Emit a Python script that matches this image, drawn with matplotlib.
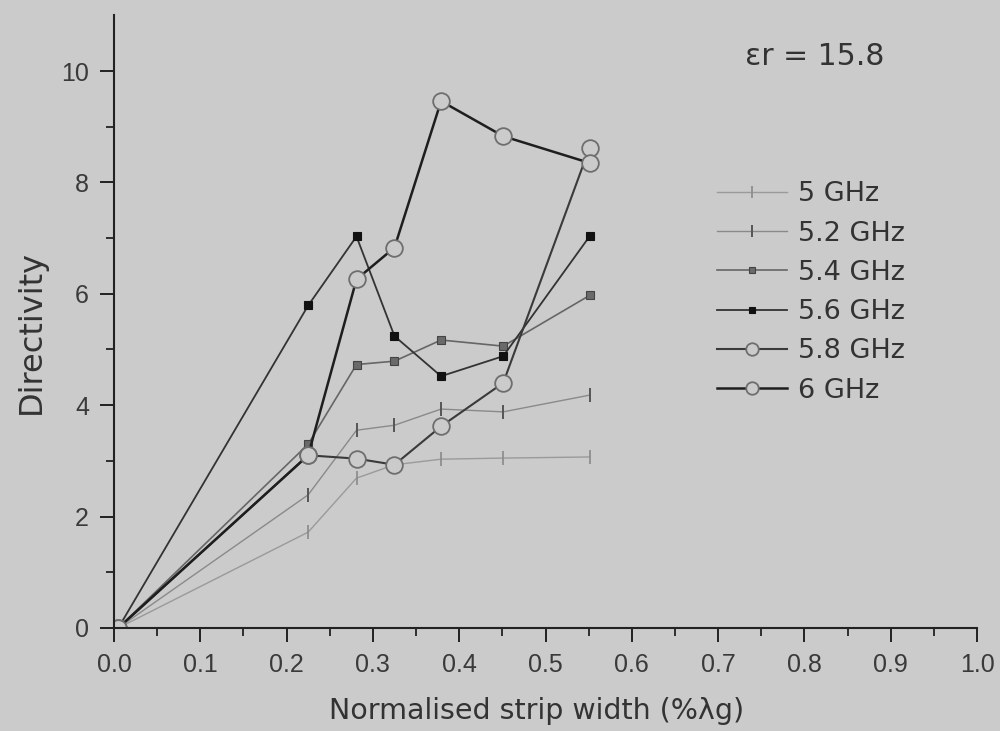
import matplotlib
matplotlib.use("Agg")
import matplotlib.pyplot as plt

plt.rcParams['font.family'] = ['Liberation Sans', 'DejaVu Sans']

BG = '#cbcbcb'
LABELFONT = ['DejaVu Sans']

x = [0.005, 0.225, 0.281, 0.325, 0.379, 0.451, 0.551]
series_labels = ['5 GHz', '5.2 GHz', '5.4 GHz', '5.6 GHz', '5.8 GHz', '6 GHz']
y_5_0 = [0.0, 1.72, 2.69, 2.93, 3.03, 3.05, 3.07]
y_5_2 = [0.0, 2.39, 3.55, 3.64, 3.93, 3.88, 4.18]
y_5_4 = [0.0, 3.30, 4.73, 4.79, 5.17, 5.06, 5.97]
y_5_6 = [0.0, 5.79, 7.03, 5.24, 4.52, 4.88, 7.03]
y_5_8 = [0.0, 3.10, 3.04, 2.93, 3.62, 4.40, 8.62]
y_6_0 = [0.0, 3.10, 6.26, 6.83, 9.46, 8.83, 8.35]

x_ticks = [0.0, 0.1, 0.2, 0.3, 0.4, 0.5, 0.6, 0.7, 0.8, 0.9, 1.0]
y_ticks = [0, 2, 4, 6, 8, 10]

fig = plt.figure(figsize=(10, 7.31), dpi=100, facecolor=BG)
ax = fig.add_axes([0.114, 0.141, 0.863, 0.838], facecolor=BG)

styles = [
    dict(color='#9a9a9a', lw=1.0, marker='|', ms=10, mew=1.2, mec='#8a8a8a'),
    dict(color='#8a8a8a', lw=1.0, marker='|', ms=10, mew=1.4, mec='#555555'),
    dict(color='#666666', lw=1.2, marker='s', ms=5.5, mfc='#6a6a6a', mec='#444444', mew=0.8),
    dict(color='#333333', lw=1.3, marker='s', ms=5.5, mfc='#111111', mec='#111111', mew=0.8),
    dict(color='#3a3a3a', lw=1.5, marker='o', ms=12, mfc=BG, mec='#6e6e6e', mew=1.3),
    dict(color='#1e1e1e', lw=1.8, marker='o', ms=12, mfc=BG, mec='#6e6e6e', mew=1.3),
]
legend_ms = [8, 8, 5, 5, 9, 9]
ys = [y_5_0, y_5_2, y_5_4, y_5_6, y_5_8, y_6_0]
for yv, lab, st in zip(ys, series_labels, styles):
    ax.plot(x, yv, label=lab, **st)

ax.set_xlim(0, 1.0)
ax.set_ylim(0, 11.0)
ax.set_xticks(x_ticks)
ax.set_xticklabels([f'{v:.1f}' for v in x_ticks])
ax.set_yticks(y_ticks)
ax.set_xticks([0.05 + 0.1 * i for i in range(10)], minor=True)
ax.set_yticks([1, 3, 5, 7, 9], minor=True)

for s in ['top', 'right']:
    ax.spines[s].set_visible(False)
for s in ['left', 'bottom']:
    ax.spines[s].set_linewidth(1.5)
    ax.spines[s].set_color('#222222')

ax.tick_params(which='major', direction='out', length=10, width=1.4, colors='#222222',
               labelsize=18, labelcolor='#3a3a3a', pad=8)
ax.tick_params(which='minor', direction='out', length=5.5, width=1.3, colors='#222222')

ax.set_xlabel('Normalised strip width (%λg)', fontsize=20.5, color='#333333', family=LABELFONT)
ax.set_ylabel('Directivity', fontsize=23, color='#333333', family=LABELFONT)
ax.xaxis.set_label_coords(0.49, -0.112)
ax.yaxis.set_label_coords(-0.078, 0.484)

fig.text(0.815, 0.923, 'εr = 15.8', fontsize=21.5, color='#333333', ha='center', va='center',
         family=LABELFONT)

leg = ax.legend(loc='upper left', bbox_to_anchor=(0.717, 0.752), bbox_transform=fig.transFigure,
                frameon=False, handlelength=2.6, handletextpad=0.4,
                labelspacing=0.49, borderpad=0, borderaxespad=0,
                prop={'family': LABELFONT, 'size': 19.5})
for t in leg.get_texts():
    t.set_color('#333333')
for h, m in zip(leg.legend_handles, legend_ms):
    h.set_markersize(m)

fig.savefig('out.png', dpi=100, facecolor=BG)
